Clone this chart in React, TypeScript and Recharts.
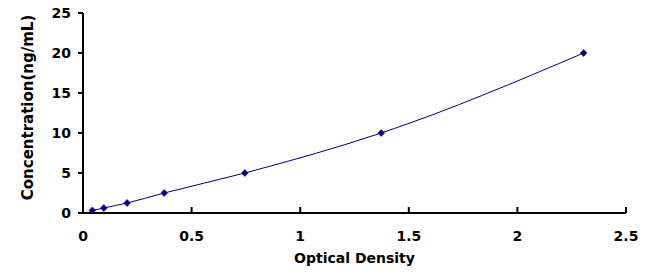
import React from "react";
import { LineChart, Line, XAxis, YAxis, Label } from "recharts";

const opticalDensity = [0.043, 0.096, 0.203, 0.374, 0.745, 1.373, 2.305];
const concentration = [0.312, 0.625, 1.25, 2.5, 5, 10, 20];
const xTicks = [0, 0.5, 1, 1.5, 2, 2.5];
const yTicks = [0, 5, 10, 15, 20, 25];
const xTitle = "Optical Density";
const yTitle = "Concentration(ng/mL)";

const data = opticalDensity.map((x, i) => ({ x, y: concentration[i] }));

const NAVY = "#000080";
const FONT = "'DejaVu Sans', sans-serif";

const Diamond = (props: any) => {
  const { cx, cy, index } = props;
  if (cx == null || cy == null) return <g key={index} />;
  return (
    <path
      key={index}
      d={`M${cx},${cy - 3.6}L${cx + 3.4},${cy}L${cx},${cy + 3.6}L${cx - 3.4},${cy}Z`}
      fill={NAVY}
      stroke={NAVY}
      strokeWidth={0.5}
    />
  );
};

const XTitle = (props: any) => {
  const vb = props.viewBox || {};
  const cx = vb.x + vb.width / 2;
  return (
    <text
      x={cx}
      y={263}
      textAnchor="middle"
      fontFamily={FONT}
      fontWeight="bold"
      fontSize={14}
      fill="#000"
    >
      {xTitle}
    </text>
  );
};

const YTitle = (props: any) => {
  const cx = 28;
  const cy = 107.5;
  return (
    <text
      x={cx}
      y={cy}
      dy="0.36em"
      transform={`rotate(-90 ${cx} ${cy})`}
      textAnchor="middle"
      fontFamily={FONT}
      fontWeight="bold"
      fontSize={15}
      fill="#000"
    >
      {yTitle}
    </text>
  );
};

export default function App() {
  return (
    <div style={{ position: "absolute", left: 0, top: 0, background: "#fff" }}>
      <LineChart
        width={661}
        height={278}
        data={data}
        margin={{ top: 13, right: 35, left: 0, bottom: 0 }}
        style={{ background: "#fff" }}
      >
        <XAxis
          dataKey="x"
          type="number"
          domain={[0, 2.5]}
          ticks={xTicks}
          height={65}
          axisLine={{ stroke: "#000", strokeWidth: 2 }}
          tickLine={{ stroke: "#000", strokeWidth: 2 }}
          tickSize={-6}
          tickMargin={24}
          tick={{ fill: "#000", fontFamily: FONT, fontWeight: "bold", fontSize: 14 }}
          interval={0}
        >
          <Label content={<XTitle />} />
        </XAxis>
        <YAxis
          dataKey="y"
          type="number"
          domain={[0, 25]}
          ticks={yTicks}
          width={83}
          axisLine={{ stroke: "#000", strokeWidth: 2 }}
          tickLine={{ stroke: "#000", strokeWidth: 2 }}
          tickSize={5}
          tickMargin={7}
          tick={{ fill: "#000", fontFamily: FONT, fontWeight: "bold", fontSize: 14 }}
          interval={0}
        >
          <Label content={<YTitle />} />
        </YAxis>
        <Line
          type="monotone"
          dataKey="y"
          stroke={NAVY}
          strokeWidth={1}
          dot={<Diamond />}
          activeDot={false}
          isAnimationActive={false}
        />
      </LineChart>
    </div>
  );
}
